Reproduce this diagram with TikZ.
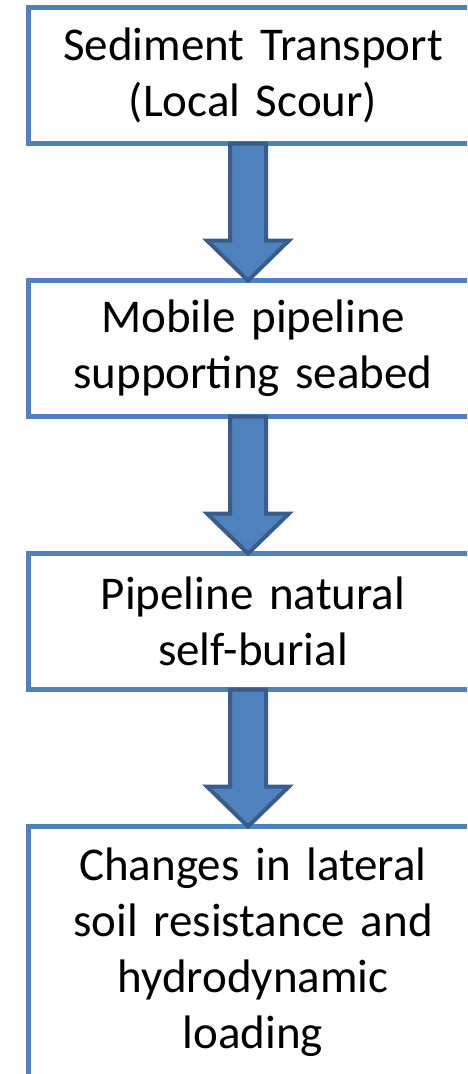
\documentclass[tikz,border=0pt]{standalone}
\usepackage{fontspec}
\setmainfont{Carlito}
\usepackage{tikz}
\usetikzlibrary{calc}
\usetikzlibrary{positioning}
\definecolor{mblue}{RGB}{79,129,189}
\definecolor{mdarkblue}{RGB}{56,93,138}
\tikzset{stage/.style = {draw=mblue, line width=5pt, fill=white,
                         minimum width=450pt, minimum height=136pt,
                         text width=430pt, align=center, inner sep=0pt, outer sep=0pt,
                         font=\fontsize{47}{56}\selectfont}}
\tikzset{blockarrow/.style = {draw=mdarkblue, fill=mblue, line width=4pt, line join=miter}}
\newcommand{\blockarr}[2]{\draw [blockarrow] let \p1 = ([xshift=-5pt]#1), \p2 = ([xshift=-5pt]#2) in
  (\x1 - 18pt, \y1) -- (\x1 + 18pt, \y1) -- (\x1 + 18pt, \y2 + 40pt)
  -- (\x1 + 41pt, \y2 + 40pt) -- (\x1, \y2) -- (\x1 - 41pt, \y2 + 40pt)
  -- (\x1 - 18pt, \y2 + 40pt) -- cycle;}

\begin{document}
\begin{tikzpicture}[x=1pt, y=-1pt, node distance=137pt]
    \useasboundingbox (0, 0) rectangle (467, 1074);
    \clip (0, 0) rectangle (467, 1074);

    \node [stage] (b1) at (253, 75.5) {Sediment Transport\\(Local Scour)};
    \node [stage, below=of b1] (b2) {Mobile pipeline\\supporting seabed};
    \node [stage, below=of b2] (b3) {Pipeline natural\\self-burial};
    \node [stage, below=of b3, minimum height=252pt] (b4)
          {Changes in lateral\\soil resistance and\\hydrodynamic\\loading};

    \blockarr{b1.south}{b2.north}
    \blockarr{b2.south}{b3.north}
    \blockarr{b3.south}{b4.north}
  \end{tikzpicture}
\end{document}
